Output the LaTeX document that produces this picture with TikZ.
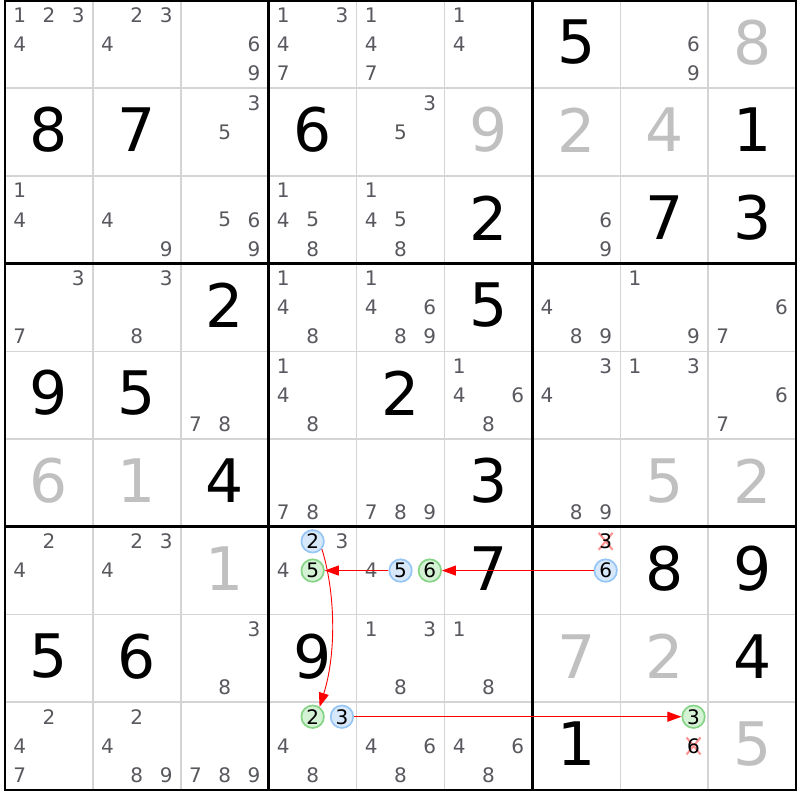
\documentclass[tikz,border=0pt]{standalone}
\usepackage{fontspec}
\setmainfont{DejaVu Sans}
\usetikzlibrary{arrows.meta}
\definecolor{candc}{RGB}{88,88,94}
\definecolor{solvedc}{RGB}{192,192,192}
\definecolor{thinc}{RGB}{212,212,212}
\definecolor{bluefill}{RGB}{214,232,250}
\definecolor{bluedraw}{RGB}{150,198,245}
\definecolor{greenfill}{RGB}{212,242,212}
\definecolor{greendraw}{RGB}{135,212,135}
\definecolor{crossc}{RGB}{255,145,145}
\def\GX{5}\def\GY{0.5}\def\GW{87.9}\def\GH{87.7}
\newcommand\cpos[3]{%
 \pgfmathsetmacro\px{\GX+(#2-1)*\GW+(mod(#3-1,3)+0.5)*\GW/3}%
 \pgfmathsetmacro\py{-(\GY+(#1-1)*\GH+(floor((#3-1)/3)+0.5)*\GH/3)}}
\newcommand\bpos[2]{%
 \pgfmathsetmacro\px{\GX+(#2-0.5)*\GW}%
 \pgfmathsetmacro\py{-(\GY+(#1-0.5)*\GH-2)}}
\newcommand\cands[3]{\foreach \d in {#3}{\cpos{#1}{#2}{\d}\node[cand] (c#1#2\d) at (\px,\py) {\d};}}
\newcommand\given[3]{\bpos{#1}{#2}\node[given] (g#1#2) at (\px,\py) {#3};}
\newcommand\solved[3]{\bpos{#1}{#2}\node[solved] (s#1#2) at (\px,\py) {#3};}
\newcommand\hl[4]{\cpos{#2}{#3}{#4}\node[#1] (h#2#3#4) at (\px,\py) {#4};}
\newcommand\crossed[3]{\cpos{#1}{#2}{#3}\coordinate (xp#1#2#3) at (\px,\py);
 \draw[crossline] ([shift={(-7,8.5)}]xp#1#2#3) -- ([shift={(7,-8.5)}]xp#1#2#3);
 \draw[crossline] ([shift={(-7,-8.5)}]xp#1#2#3) -- ([shift={(7,8.5)}]xp#1#2#3);
 \node[crossd] (x#1#2#3) at (xp#1#2#3) {#3};}
\tikzset{
 cand/.style={text=candc, font=\fontsize{20}{20}\selectfont, inner sep=0pt},
 given/.style={text=black, font=\fontsize{60}{60}\selectfont, inner sep=0pt},
 solved/.style={text=solvedc, font=\fontsize{60}{60}\selectfont, inner sep=0pt},
 hlb/.style={circle, draw=bluedraw, fill=bluefill, line width=1.7pt, minimum size=22.5pt, inner sep=0pt, text=black, font=\fontsize{20}{20}\selectfont},
 hlg/.style={hlb, draw=greendraw, fill=greenfill},
 crossd/.style={text=black, font=\fontsize{20}{20}\selectfont, inner sep=0pt},
 crossline/.style={draw=crossc, line width=2pt},
 thingrid/.style={draw=thinc, line width=1.5pt},
 thickgrid/.style={draw=black, line width=2.6pt},
 arr/.style={draw=red, line width=0.9pt, -{Triangle[length=14pt,width=10pt]}}
}
\begin{document}
\begin{tikzpicture}[x=1pt,y=1pt]
\useasboundingbox (0,0) rectangle (800,-800);
\fill[white] (0,0) rectangle (800,-800);
% grid
\foreach \i in {1,2,4,5,7,8}{
 \draw[thingrid] ({\GX+\i*\GW},{-\GY}) -- ({\GX+\i*\GW},{-(\GY+9*\GH)});
 \draw[thingrid] ({\GX},{-(\GY+\i*\GH)}) -- ({\GX+9*\GW},{-(\GY+\i*\GH)});
}
\foreach \i in {0,3,6,9}{
 \draw[thickgrid] ({\GX+\i*\GW},{-\GY+1.3}) -- ({\GX+\i*\GW},{-(\GY+9*\GH)-1.3});
 \draw[thickgrid] ({\GX-1.3},{-(\GY+\i*\GH)}) -- ({\GX+9*\GW+1.3},{-(\GY+\i*\GH)});
}
% givens
\given{1}{7}{5}
\given{2}{1}{8}\given{2}{2}{7}\given{2}{4}{6}\given{2}{9}{1}
\given{3}{6}{2}\given{3}{8}{7}\given{3}{9}{3}
\given{4}{3}{2}\given{4}{6}{5}
\given{5}{1}{9}\given{5}{2}{5}\given{5}{5}{2}
\given{6}{3}{4}\given{6}{6}{3}
\given{7}{6}{7}\given{7}{8}{8}\given{7}{9}{9}
\given{8}{1}{5}\given{8}{2}{6}\given{8}{4}{9}\given{8}{9}{4}
\given{9}{7}{1}
% solved
\solved{1}{9}{8}
\solved{2}{6}{9}\solved{2}{7}{2}\solved{2}{8}{4}
\solved{6}{1}{6}\solved{6}{2}{1}\solved{6}{8}{5}\solved{6}{9}{2}
\solved{7}{3}{1}
\solved{8}{7}{7}\solved{8}{8}{2}
\solved{9}{9}{5}
% candidates
\cands{1}{1}{1,2,3,4}\cands{1}{2}{2,3,4}\cands{1}{3}{6,9}\cands{1}{4}{1,3,4,7}
\cands{1}{5}{1,4,7}\cands{1}{6}{1,4}\cands{1}{8}{6,9}
\cands{2}{3}{3,5}\cands{2}{5}{3,5}
\cands{3}{1}{1,4}\cands{3}{2}{4,9}\cands{3}{3}{5,6,9}\cands{3}{4}{1,4,5,8}
\cands{3}{5}{1,4,5,8}\cands{3}{7}{6,9}
\cands{4}{1}{3,7}\cands{4}{2}{3,8}\cands{4}{4}{1,4,8}\cands{4}{5}{1,4,6,8,9}
\cands{4}{7}{4,8,9}\cands{4}{8}{1,9}\cands{4}{9}{6,7}
\cands{5}{3}{7,8}\cands{5}{4}{1,4,8}\cands{5}{6}{1,4,6,8}\cands{5}{7}{3,4}
\cands{5}{8}{1,3}\cands{5}{9}{6,7}
\cands{6}{4}{7,8}\cands{6}{5}{7,8,9}\cands{6}{7}{8,9}
\cands{7}{1}{2,4}\cands{7}{2}{2,3,4}\cands{7}{4}{3,4}\cands{7}{5}{4}
\cands{8}{3}{3,8}\cands{8}{5}{1,3,8}\cands{8}{6}{1,8}
\cands{9}{1}{2,4,7}\cands{9}{2}{2,4,8,9}\cands{9}{3}{7,8,9}\cands{9}{4}{4,8}
\cands{9}{5}{4,6,8}\cands{9}{6}{4,6,8}
% highlighted
\hl{hlb}{7}{4}{2}\hl{hlg}{7}{4}{5}
\hl{hlb}{7}{5}{5}\hl{hlg}{7}{5}{6}
\hl{hlb}{7}{7}{6}
\hl{hlg}{9}{4}{2}\hl{hlb}{9}{4}{3}
\hl{hlg}{9}{8}{3}
% eliminated
\crossed{7}{7}{3}
\crossed{9}{8}{6}
% chain
\draw[arr] (h776) -- (h756);
\draw[arr] (h755) -- (h745);
\draw[arr] (h742.-40) .. controls (336,-595) and (336,-655) .. (h942.55);
\draw[arr] (h943) -- (h983);
\end{tikzpicture}
\end{document}
